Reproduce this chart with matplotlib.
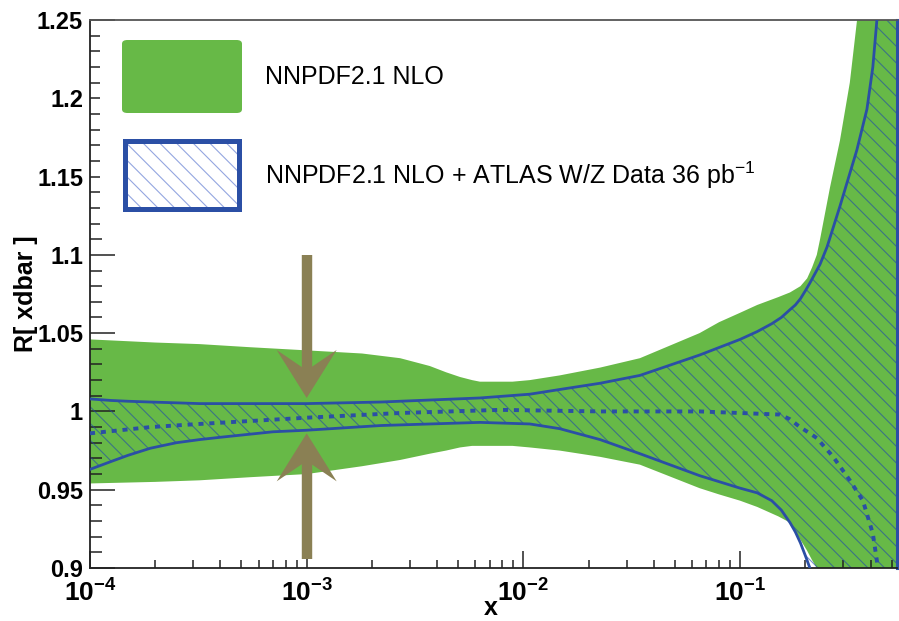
import numpy as np
import matplotlib
matplotlib.use("Agg")
import matplotlib.pyplot as plt
import matplotlib.transforms as mtransforms
from matplotlib.patches import Rectangle, FancyBboxPatch, Polygon
from matplotlib.ticker import FixedLocator, LogLocator, NullFormatter

plt.rcParams['font.family'] = ['Liberation Sans', 'DejaVu Sans']
plt.rcParams['mathtext.fontset'] = 'custom'
plt.rcParams['mathtext.rm'] = 'Liberation Sans'
plt.rcParams['mathtext.bf'] = 'Liberation Sans:bold'
plt.rcParams['hatch.linewidth'] = 0.8

# NNPDF2.1 NLO band (ratio to central value)
x_nnpdf = [1e-4, 2e-4, 3.2e-4, 5.5e-4, 1e-3, 1.8e-3, 2.7e-3, 3.7e-3, 4.4e-3, 5.1e-3,
           5.8e-3, 6.3e-3, 7.8e-3, 8.9e-3, 0.0107, 0.0147, 0.0226, 0.0345, 0.065, 0.08,
           0.1, 0.12, 0.15, 0.17, 0.19, 0.204, 0.215, 0.226, 0.234, 0.26, 0.289, 0.321,
           0.346, 0.53]
hi_nnpdf = [1.046, 1.044, 1.043, 1.041, 1.039, 1.037, 1.034, 1.029, 1.025, 1.022,
            1.020, 1.019, 1.019, 1.019, 1.020, 1.023, 1.028, 1.034, 1.050, 1.057,
            1.063, 1.068, 1.073, 1.076, 1.080, 1.085, 1.092, 1.100, 1.110, 1.143, 1.173,
            1.210, 1.249, 1.40]
lo_nnpdf = [0.954, 0.955, 0.956, 0.958, 0.960, 0.965, 0.969, 0.973, 0.975, 0.977,
            0.978, 0.978, 0.978, 0.978, 0.977, 0.975, 0.971, 0.966, 0.951, 0.947,
            0.943, 0.939, 0.933, 0.929, 0.918, 0.911, 0.905, 0.900, 0.880, 0.850, 0.820,
            0.800, 0.780, 0.700]

# NNPDF2.1 NLO + ATLAS W/Z band
x_atlas = [1e-4, 1.25e-4, 1.5e-4, 1.9e-4, 2.5e-4, 3.2e-4, 4e-4, 5.5e-4, 7e-4, 1e-3,
           2.2e-3, 6.3e-3, 0.0107, 0.0147, 0.0226, 0.0345, 0.065, 0.1, 0.12, 0.14,
           0.155, 0.17, 0.18, 0.19, 0.2, 0.21, 0.234, 0.252, 0.289, 0.346, 0.385, 0.41,
           0.428, 0.53]
hi_atlas = [1.008, 1.007, 1.0065, 1.006, 1.0055, 1.005, 1.005, 1.005, 1.005, 1.005,
            1.006, 1.0086, 1.011, 1.014, 1.018, 1.023, 1.036, 1.046, 1.051, 1.056,
            1.060, 1.065, 1.068, 1.072, 1.077, 1.082, 1.094, 1.105, 1.131, 1.167, 1.193,
            1.220, 1.250, 1.40]
lo_atlas = [0.963, 0.968, 0.972, 0.9765, 0.980, 0.982, 0.9835, 0.9855, 0.987, 0.988,
            0.991, 0.993, 0.992, 0.989, 0.982, 0.973, 0.959, 0.951, 0.948, 0.943,
            0.937, 0.929, 0.923, 0.916, 0.908, 0.900, 0.870, 0.850, 0.820, 0.780, 0.760,
            0.750, 0.740, 0.700]

x_central = [1e-4, 1.9e-4, 3.2e-4, 1e-3, 2.7e-3, 7.8e-3, 0.0226, 0.065, 0.153, 0.17,
             0.189, 0.21, 0.226, 0.269, 0.321, 0.369, 0.41, 0.433, 0.45]
y_central = [0.986, 0.990, 0.992, 0.996, 0.999, 1.001, 1.000, 1.000, 0.998, 0.995,
             0.990, 0.986, 0.983, 0.971, 0.956, 0.943, 0.922, 0.900, 0.880]

# arrows marking the reduction of the uncertainty at x = 1e-3
arrow_x = 1e-3
arrow_down = (1.100, 1.0086)
arrow_up = (0.906, 0.986)

green = '#67b947'
blue = '#2b4fa5'
olive = '#8a8054'

fig = plt.figure(figsize=(8.99, 6.21), dpi=100)
ax = fig.add_axes([90 / 899, 1 - 568 / 621, 807 / 899, 548 / 621])
ax.set_xscale('log')
ax.set_xlim(1e-4, 0.53)
ax.set_ylim(0.9, 1.25)

ax.fill_between(x_nnpdf, lo_nnpdf, hi_nnpdf, color=green, linewidth=0, zorder=1)
ax.fill_between(x_atlas, lo_atlas, hi_atlas, facecolor='none',
                edgecolor=(0.12, 0.28, 0.68, 0.6), hatch='\\\\', linewidth=0, zorder=2)
ax.plot(x_atlas, hi_atlas, color=blue, lw=2.0, zorder=3)
ax.plot(x_atlas, lo_atlas, color=blue, lw=2.0, zorder=3)
ax.plot(x_central, y_central, color=blue, lw=2.8, dashes=(1.3, 1.5),
        dash_capstyle='butt', zorder=3)

# arrows: shaft in data units, notched head sized in inches
for tail, tip in (arrow_down, arrow_up):
    sgn = 1 if tail > tip else -1
    tip_px = ax.transData.transform((arrow_x, tip))
    back = ax.transData.inverted().transform(tip_px + np.array([0, sgn * 0.25 * fig.dpi]))[1]
    ax.plot([arrow_x, arrow_x], [tail, back], color=olive, lw=7.5,
            solid_capstyle='butt', zorder=4)
    trans = fig.dpi_scale_trans + mtransforms.ScaledTranslation(arrow_x, tip, ax.transData)
    head = np.array([[0, 0], [-0.30, 0.48], [-0.05, 0.31], [0.05, 0.31], [0.30, 0.48]])
    head[:, 1] *= sgn
    ax.add_patch(Polygon(head, closed=True, transform=trans, color=olive,
                         linewidth=0, zorder=4, clip_on=False))

# frame and ticks
for side in ('left', 'bottom', 'top'):
    ax.spines[side].set_linewidth(1.3)
    ax.spines[side].set_color('#222222')
ax.spines['top'].set_color('#555555')
ax.spines['right'].set_color(blue)
ax.spines['right'].set_linewidth(2.2)

yt = [0.9, 0.95, 1.0, 1.05, 1.1, 1.15, 1.2, 1.25]
ax.yaxis.set_major_locator(FixedLocator(yt))
ax.set_yticklabels(['0.9', '0.95', '1', '1.05', '1.1', '1.15', '1.2', '1.25'])
ax.yaxis.set_minor_locator(FixedLocator(np.arange(0.9, 1.2501, 0.01)))
ax.xaxis.set_major_locator(FixedLocator([1e-4, 1e-3, 1e-2, 1e-1]))
ax.set_xticklabels([r'$\mathbf{10^{-4}}$', r'$\mathbf{10^{-3}}$',
                    r'$\mathbf{10^{-2}}$', r'$\mathbf{10^{-1}}$'])
ax.xaxis.set_minor_locator(LogLocator(base=10, subs=np.arange(2, 10), numticks=20))
ax.xaxis.set_minor_formatter(NullFormatter())

ax.tick_params(axis='both', which='both', direction='in', top=False, right=False,
               width=1.1, color='#222222')
ax.tick_params(axis='y', which='major', length=18, pad=5, labelsize=17)
ax.tick_params(axis='y', which='minor', length=8.5)
ax.tick_params(axis='x', which='major', length=12, pad=8, labelsize=19)
ax.tick_params(axis='x', which='minor', length=6)
for lab in ax.get_yticklabels():
    lab.set_fontweight('bold')

ax.set_xlabel('x', fontsize=18, fontweight='bold', va='baseline')
ax.xaxis.set_label_coords(0.496, -0.0858)
ax.set_ylabel('R[ xdbar ]', fontsize=18, fontweight='bold')
ax.yaxis.set_label_coords(-0.064, 0.5)

# legend
ax.add_patch(Rectangle((100 / 899, 1 - 230 / 621), 680 / 899, 208 / 621,
                       transform=fig.transFigure, facecolor='white', edgecolor='none',
                       zorder=5, clip_on=False))
ax.add_patch(FancyBboxPatch((122 / 899, 1 - 113 / 621), 120 / 899, 73 / 621,
                            boxstyle='round,pad=0,rounding_size=0.006',
                            transform=fig.transFigure, facecolor=green,
                            edgecolor='none', zorder=6, clip_on=False))
box = (125.5 / 899, 1 - 209.5 / 621)
ax.add_patch(Rectangle(box, 114 / 899, 68 / 621, transform=fig.transFigure,
                       facecolor='white', edgecolor=(0.3, 0.42, 0.8, 0.6),
                       hatch='\\\\', linewidth=0, zorder=6, clip_on=False))
ax.add_patch(Rectangle(box, 114 / 899, 68 / 621, transform=fig.transFigure,
                       facecolor='none', edgecolor=blue, linewidth=3.6,
                       zorder=7, clip_on=False))
fig.text(265 / 899, 1 - 77 / 621, 'NNPDF2.1 NLO', fontsize=18, va='center', zorder=8)
fig.text(265 / 899, 1 - 175 / 621,
         r'NNPDF2.1 NLO + ATLAS W/Z Data 36 pb$^{\mathregular{-1}}$',
         fontsize=18, va='center', zorder=8)

fig.savefig('out.png', dpi=100)
